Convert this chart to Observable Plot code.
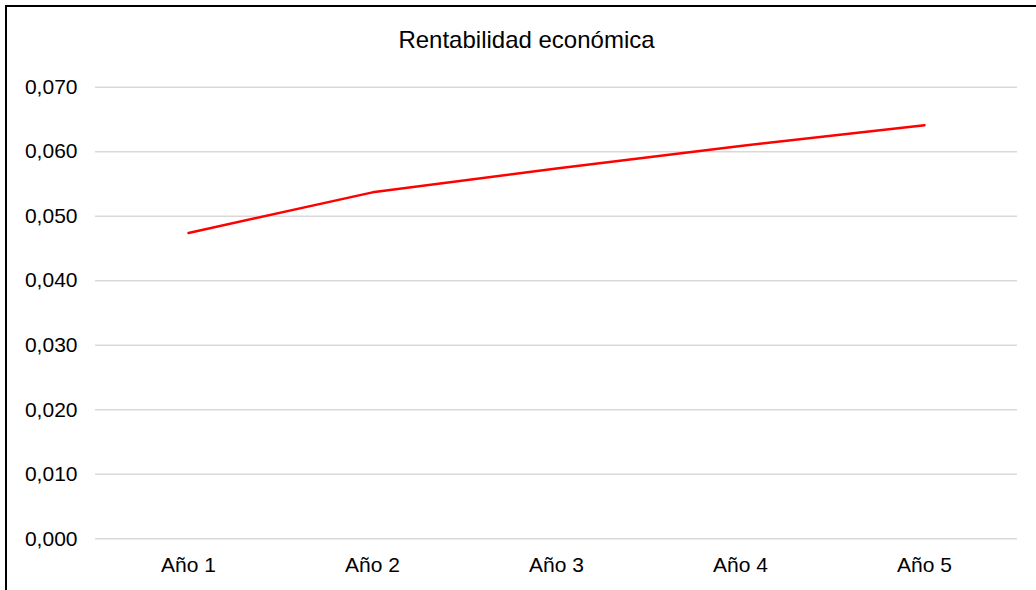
<!DOCTYPE html>
<html>
<head>
<meta charset="utf-8">
<script src="https://cdn.jsdelivr.net/npm/d3@7"></script>
<script src="https://cdn.jsdelivr.net/npm/@observablehq/plot@0.6"></script>
<style>
  html, body { margin: 0; padding: 0; background: #fff; overflow: hidden; }
  body { width: 1036px; height: 590px; position: relative; font-family: "Liberation Sans", Arial, sans-serif; }
  #frame { position: absolute; left: 5px; top: 5px; width: 1100px; height: 700px; border: 2px solid #000; box-sizing: border-box; pointer-events: none; }
  #title { height: 62px; box-sizing: border-box; padding-top: 27.7px; padding-left: 17px; line-height: 24px; font-size: 24px; text-align: center; color: #000; white-space: nowrap; }
  #chart svg { display: block; }
</style>
</head>
<body>
<div id="title">Rentabilidad económica</div>
<div id="chart"></div>
<div id="frame"></div>
<script>
const years = ["Año 1", "Año 2", "Año 3", "Año 4", "Año 5"];
const values = [0.0474, 0.0537, 0.0574, 0.0609, 0.0641];
const yTicks = [0, 0.01, 0.02, 0.03, 0.04, 0.05, 0.06, 0.07];

const data = years.map((y, i) => ({year: y, value: values[i]}));
const locale = d3.formatLocale({decimal: ",", thousands: ".", grouping: [3], currency: ["", "€"]});
const fmt = locale.format(".3f");

const plot = Plot.plot({
  width: 1036,
  height: 528,
  marginLeft: 95,
  marginRight: 19,
  marginTop: 24.7,
  marginBottom: 51.7,
  style: {fontFamily: "'Liberation Sans', Arial, sans-serif", fontSize: "21px", color: "#000", background: "transparent"},
  x: {type: "point", domain: years, padding: 0.5, label: null},
  y: {domain: [0, 0.07], label: null},
  marks: [
    Plot.ruleY(yTicks, {stroke: "#d9d9d9", strokeWidth: 1.4}),
    Plot.axisY({ticks: yTicks, tickFormat: fmt, tickSize: 0, tickPadding: 18, label: null, fill: "#000"}),
    Plot.axisX({tickSize: 0, tickPadding: 18, label: null, fill: "#000"}),
    Plot.line(data, {x: "year", y: "value", stroke: "#ff0000", strokeWidth: 2.5})
  ]
});
document.getElementById("chart").appendChild(plot);
</script>
</body>
</html>
